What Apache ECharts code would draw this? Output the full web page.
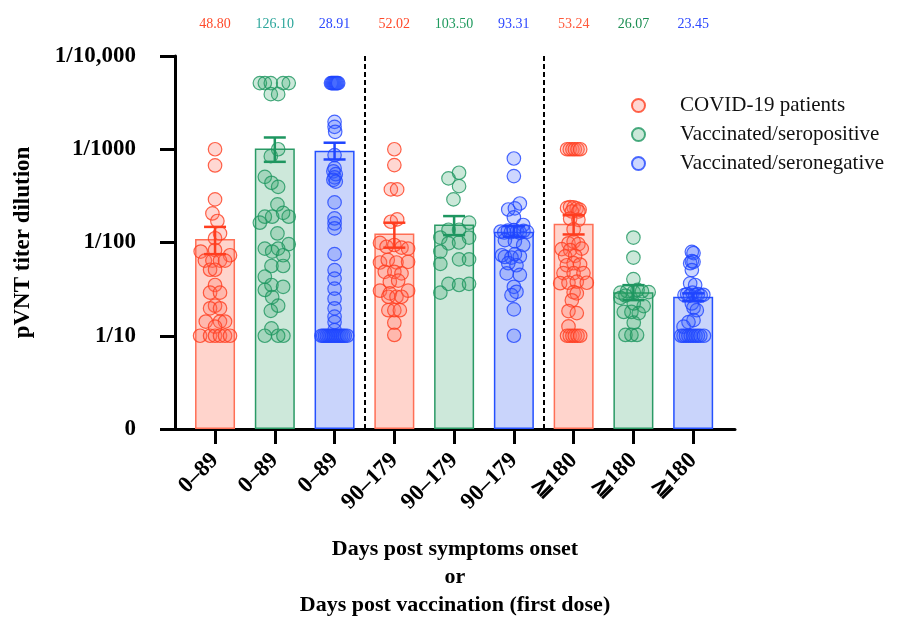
<!DOCTYPE html>
<html><head><meta charset="utf-8">
<script src="https://cdn.jsdelivr.net/npm/echarts@6/dist/echarts.min.js"></script>
<style>html,body{margin:0;padding:0;background:#fff}#c{width:899px;height:621px}</style>
</head><body><div id="c"></div>
<script>
const categories = ['0–89','0–89','0–89','90–179','90–179','90–179','≧180','≧180','≧180'];
const cohortOfGroup = [0,1,2,0,1,2,0,1,2];
const cohorts = ['COVID-19 patients','Vaccinated/seropositive','Vaccinated/seronegative'];
const gmtLabels = ['48.80','126.10','28.91','52.02','103.50','93.31','53.24','26.07','23.45'];
const barValues = [109, 1018, 961, 125, 156, 130, 159, 29.2, 26.2];
const errLow = [75, 733, 777, 88, 120, 115, 122, 24.1, 23.5];
const errHigh = [147, 1337, 1175, 163, 192, 150, 196, 34.9, 28.5];
const yTickValues = [1, 10, 100, 1000, 10000];
const yTickLabels = ['0', '1/10', '1/100', '1/1000', '1/10,000'];

// individual titers per group: [horizontal jitter (category units), titer]
const g1 = [[0,1000],[0,670],[0,290],[-0.044,205],[0.039,170],[0.083,125],[0,111],[-0.24,80],[0,83],[0.25,73],
  [-0.17,64],[-0.044,64],[0.083,64],[0.167,64],[-0.083,51],[0,51],[0,35],[-0.083,29],[0.083,29],[0,21],
  [-0.083,19.7],[0.083,19.7],[-0.155,14.2],[0.083,14.2],[0.167,14.2],[0,12.5],[-0.25,10],[-0.083,10],[0,10],[0.083,10],[0.167,10],[0.25,10]];
const g2 = [[-0.25,5120],[-0.167,5120],[-0.067,5120],[0.139,5120],[0.233,5120],[-0.067,3900],[0.056,3900],
  [0.056,1000],[-0.067,843],[-0.167,506],[-0.056,437],[0.056,395],[0.044,256],[0.139,208],[-0.167,189],[-0.044,189],[0.233,189],
  [-0.25,163],[0.044,125],[-0.167,86],[-0.044,80],[0.056,86],[0.233,96],[0.139,73],[-0.056,56],[0.139,56],[-0.167,43],
  [-0.056,35],[-0.167,31],[0.139,33.5],[-0.044,26],[0.056,21],[-0.067,18.5],[-0.056,12],[-0.167,10],[0.056,10],[0.144,10]];
const g3 = [[-0.06,5120],[-0.043,5120],[-0.026,5120],[-0.009,5120],[0.009,5120],[0.026,5120],[0.043,5120],[0.06,5120],
  [0,1966],[0,1738],[0.01,1538],[0,865],[0,627],[-0.02,580],[0.02,540],[0,500],[-0.02,470],[0.02,450],
  [0,269],[0,181],[0,160],[0,142],[0,75],[0,50.6],[0,41],[0,32],[0,25],[0,19.7],[0,16],[0,14],[0,11.5],
  [-0.22,10],[-0.19,10],[-0.16,10],[-0.13,10],[-0.1,10],[-0.07,10],[-0.04,10],[-0.01,10],[0.02,10],[0.05,10],[0.08,10],[0.11,10],[0.14,10],[0.17,10],[0.21,10]];
const g4 = [[0,1000],[0,676],[-0.058,371],[0.047,371],[-0.058,167],[0.047,177],[-0.24,99],[-0.13,90],[0,94],[0.12,88],[0.23,86],
  [-0.24,61],[-0.11,65],[0.036,61],[0.23,62],[-0.16,48.5],[0,48.5],[0.12,46.6],[-0.075,38],[0.064,39],[-0.24,30.4],[-0.075,28.5],
  [0.23,30.4],[-0.1,26.2],[0.036,26.2],[0.12,26.2],[-0.1,18.8],[0,18.8],[0.092,18.8],[0,13.8],[0,10.2]];
const g5 = [[0.083,560],[-0.094,487],[0.083,402],[-0.011,290],[0.25,163],[-0.094,137],[0.083,137],[-0.23,113],[0.25,113],
  [-0.094,98],[0.083,100],[-0.23,80],[0.083,66],[0.25,66],[-0.23,59],[-0.094,36],[0.083,35],[0.25,36],[-0.23,29]];
const g6 = [[0,796],[0,515],[0.1,262],[-0.094,226],[0.017,232],[0,186],[0.156,154],
  [-0.22,131],[-0.16,128],[-0.1,134],[-0.05,129],[0,136],[0.05,131],[0.1,127],[0.16,133],[0.22,130],
  [-0.15,106],[0.017,103],[0.156,94],[-0.15,70],[-0.04,69],[0.1,71],[0.017,75],[-0.2,73],[-0.094,60],[0.044,57],
  [-0.12,46.6],[0.1,45],[0,33.5],[0.044,29.6],[-0.04,27.3],[0,19.2],[0,10]];
const g7 = [[-0.11,1000],[-0.065,1000],[-0.02,1000],[0.02,1000],[0.065,1000],[0.11,1000],
  [-0.11,235],[-0.06,240],[0,238],[0.05,232],[0.1,225],[-0.03,215],[0.08,215],
  [-0.058,180],[0.08,175],[0,138],[-0.086,98],[0,102],[0.08,96],[-0.2,85],[-0.058,83],[0.136,86],[-0.142,71],[0.025,72],
  [-0.114,57],[0,60],[0.108,58],[-0.17,47],[0,47],[0.164,47],[-0.225,36.6],[-0.086,37],[0.053,38],[0.22,37],
  [0,29.3],[0.053,28.5],[-0.03,24],[-0.086,18.4],[0.053,17.5],[-0.086,12.6],
  [-0.11,10],[-0.065,10],[-0.02,10],[0.02,10],[0.065,10],[0.11,10]];
const g8 = [[0,113],[0,69],[0,40.5],[-0.217,29],[-0.106,30],[0.006,29.4],[0.144,30],[0.256,29.4],[0.07,31],
  [-0.217,25.5],[-0.133,27],[0.006,22.2],[0.172,20.8],[-0.161,18],[-0.033,18],[0.089,17.5],[0.006,13.8],
  [-0.133,10.2],[-0.033,10.2],[0.061,10.2]];
const g9 = [[-0.022,79.4],[0.006,77],[-0.022,63],[-0.05,60],[0.006,62],[-0.022,50.6],[-0.05,36.4],[0.033,35],
  [-0.145,27.3],[-0.1,28],[-0.055,27],[-0.01,29],[0.035,27.3],[0.08,28],[0.125,27],[0.17,27.5],
  [-0.022,22.2],[0.006,20],[0.061,18.8],[0.006,14.7],[-0.078,14],[-0.161,12.5],
  [-0.2,10],[-0.16,10],[-0.12,10],[-0.08,10],[-0.04,10],[0,10],[0.04,10],[0.08,10],[0.12,10],[0.18,10]];
const groups = [g1, g2, g3, g4, g5, g6, g7, g8, g9];

const stroke = ['#ff3d1f', '#1e9660', '#1f45ff'];
const dotFill = ['rgba(255,110,90,0.34)', 'rgba(40,160,100,0.3)', 'rgba(50,90,255,0.3)'];
const barFill = ['#ffd4cc', '#cde8da', '#c9d4fb'];
const barBorder = ['#ff6f55', '#2a9a65', '#2450ff'];
const gmtColors = ['#ff4a2a','#2aa59a','#2b47ff','#ff4a2a','#1f9a5e','#2b47ff','#ff5a3a','#1b8e52','#2b47ff'];
const serif = '"Liberation Serif", "DejaVu Serif", serif';

const idx = categories.map((_, i) => i);
const rich = {};
gmtColors.forEach((c, i) => { rich['c' + i] = { color: c, fontSize: 14, fontFamily: serif }; });

const scatterSeries = cohorts.map((name, c) => ({
  name, type: 'scatter', z: 3,
  symbol: 'circle', symbolSize: 13.5,
  itemStyle: { color: dotFill[c], borderColor: stroke[c], borderWidth: 1.2 },
  data: groups.flatMap((g, gi) => cohortOfGroup[gi] === c ? g.map(p => [gi + p[0], p[1]]) : [])
}));

const option = {
  animation: false,
  grid: { left: 175, right: 164, top: 56, bottom: 192, outerBoundsMode: 'none', containLabel: false },
  legend: {
    data: cohorts, orient: 'vertical', left: 626, top: 90, itemGap: 8,
    icon: 'circle', itemWidth: 13, itemHeight: 13,
    textStyle: { fontFamily: serif, fontSize: 21, color: '#111', padding: [0, 0, 0, 30] }
  },
  xAxis: [{
    type: 'value', min: -0.67, max: 8.7,
    splitLine: { show: false },
    axisLine: { show: true, onZero: false, lineStyle: { color: '#000', width: 3 } },
    axisTick: { show: true, customValues: idx, length: 15, lineStyle: { color: '#000', width: 3 } },
    axisLabel: {
      customValues: idx, rotate: 45, margin: 28,
      formatter: v => categories[Math.round(v)],
      fontFamily: serif, fontWeight: 'bold', fontSize: 23, color: '#000'
    },
    name: 'Days post symptoms onset\nor\nDays post vaccination (first dose)',
    nameLocation: 'middle', nameGap: 106,
    nameTextStyle: { fontFamily: serif, fontWeight: 'bold', fontSize: 22, color: '#000', lineHeight: 28 }
  }, {
    type: 'value', min: -0.67, max: 8.7, position: 'top',
    splitLine: { show: false }, axisLine: { show: false }, axisTick: { show: false },
    axisLabel: {
      customValues: idx, margin: 25,
      formatter: v => { const i = Math.round(v); return '{c' + i + '|' + gmtLabels[i] + '}'; },
      rich
    }
  }],
  yAxis: {
    type: 'log', logBase: 10, min: 1, max: 10000,
    splitLine: { show: false }, minorTick: { show: false },
    axisLine: { show: true, onZero: false, lineStyle: { color: '#000', width: 3 } },
    axisTick: { show: true, length: 15, lineStyle: { color: '#000', width: 3 } },
    axisLabel: {
      margin: 39, fontFamily: serif, fontWeight: 'bold', fontSize: 23, color: '#000',
      formatter: v => { const k = yTickValues.findIndex(t => Math.abs(t - v) / t < 1e-6); return k >= 0 ? yTickLabels[k] : ''; }
    },
    name: 'pVNT titer dilution', nameLocation: 'middle', nameGap: 140, nameRotate: 90,
    nameTextStyle: { fontFamily: serif, fontWeight: 'bold', fontSize: 23, color: '#000' }
  },
  series: [{
    type: 'bar', z: 1, barWidth: 40, silent: true,
    data: barValues.map((v, i) => ({
      value: [i, v],
      itemStyle: { color: barFill[cohortOfGroup[i]], borderColor: barBorder[cohortOfGroup[i]], borderWidth: 1.5 }
    })),
    markLine: {
      silent: true, symbol: ['none', 'none'], label: { show: false },
      lineStyle: { color: '#000', type: [5, 3], width: 2 },
      data: [{ xAxis: 2.5 }, { xAxis: 5.5 }]
    }
  },
  ...scatterSeries,
  {
    type: 'custom', z: 4, silent: true,
    data: barValues.map((v, i) => [i, errLow[i], errHigh[i]]),
    renderItem: (params, api) => {
      const x = api.value(0);
      const lo = api.coord([x, api.value(1)]);
      const hi = api.coord([x, api.value(2)]);
      const col = stroke[cohortOfGroup[params.dataIndex]];
      const w = 11;
      const st = { stroke: col, lineWidth: 2.5 };
      return { type: 'group', children: [
        { type: 'line', shape: { x1: lo[0], y1: lo[1], x2: hi[0], y2: hi[1] }, style: st },
        { type: 'line', shape: { x1: hi[0] - w, y1: hi[1], x2: hi[0] + w, y2: hi[1] }, style: st },
        { type: 'line', shape: { x1: lo[0] - w, y1: lo[1], x2: lo[0] + w, y2: lo[1] }, style: st }
      ]};
    }
  }]
};
const chart = echarts.init(document.getElementById('c'));
chart.setOption(option);
</script></body></html>
